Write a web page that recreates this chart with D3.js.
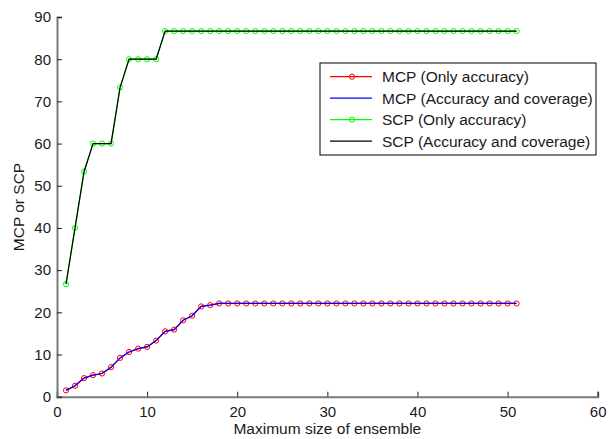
<!DOCTYPE html>
<head>
  <meta charset="utf-8">
  <script src="https://d3js.org/d3.v7.min.js"></script>
  <style>
    body { margin: 0; background: #fff; }
    text { font-family: "Liberation Sans", Arial, sans-serif; fill: #1a1a1a; }
  </style>
</head>
<body>
  <svg width="608" height="439"></svg>
  <script>
    // data
    var ensembleSize = d3.range(1, 52);
    var mcpOnlyAccuracy = [1.5, 2.6, 4.4, 5.1, 5.5, 7.0, 9.2, 10.6, 11.4, 11.8,
      13.3, 15.5, 15.9, 18.1, 19.2, 21.4, 21.7].concat(d3.range(18, 52).map(function () { return 22.1; }));
    var mcpAccCoverage = mcpOnlyAccuracy.slice();
    var scpOnlyAccuracy = [26.67, 40, 53.33, 60, 60, 60, 73.33, 80, 80, 80, 80]
      .concat(d3.range(12, 52).map(function () { return 86.67; }));
    var scpAccCoverage = scpOnlyAccuracy.slice();
    var xTicks = [0, 10, 20, 30, 40, 50, 60];
    var yTicks = [0, 10, 20, 30, 40, 50, 60, 70, 80, 90];

    var series = [
      { name: "MCP (Only accuracy)", values: mcpOnlyAccuracy, color: "#ff0000", marker: true },
      { name: "MCP (Accuracy and coverage)", values: mcpAccCoverage, color: "#0000ff", marker: false },
      { name: "SCP (Only accuracy)", values: scpOnlyAccuracy, color: "#00ff00", marker: true },
      { name: "SCP (Accuracy and coverage)", values: scpAccCoverage, color: "#000000", marker: false }
    ];

    var svg = d3.select("svg");
    var x = d3.scaleLinear().domain([0, 60]).range([57, 597.7]);
    var y = d3.scaleLinear().domain([0, 90]).range([396.7, 17]);

    // axes (MATLAB look: gray spine, inward ticks)
    var xAxis = d3.axisBottom(x).tickValues(xTicks).tickSize(-5).tickPadding(10);
    var yAxis = d3.axisLeft(y).tickValues(yTicks).tickSize(-5).tickPadding(6);

    var gx = svg.append("g").attr("transform", "translate(0," + y(0) + ")").call(xAxis);
    var gy = svg.append("g").attr("transform", "translate(" + x(0) + ",0)").call(yAxis);
    [gx, gy].forEach(function (g) {
      g.select(".domain").attr("stroke", "#7a7a7a").attr("stroke-width", 2);
      g.selectAll(".tick line").attr("stroke", "#222");
      g.selectAll(".tick text").style("font-size", "15px").attr("fill", "#1a1a1a");
    });

    var line = d3.line()
      .x(function (d, i) { return x(ensembleSize[i]); })
      .y(function (d) { return y(d); });

    series.forEach(function (s) {
      svg.append("path")
        .datum(s.values)
        .attr("fill", "none")
        .attr("stroke", s.color)
        .attr("stroke-width", 1.2)
        .attr("d", line);
      if (s.marker) {
        svg.append("g").selectAll("circle")
          .data(s.values)
          .join("circle")
          .attr("cx", function (d, i) { return x(ensembleSize[i]); })
          .attr("cy", function (d) { return y(d); })
          .attr("r", 2.6)
          .attr("fill", "none")
          .attr("stroke", s.color)
          .attr("stroke-width", 1);
      }
    });

    // axis labels
    svg.append("text")
      .attr("x", (x(0) + x(60)) / 2 - 0)
      .attr("y", 434)
      .attr("text-anchor", "middle")
      .style("font-size", "15.5px")
      .text("Maximum size of ensemble");
    svg.append("text")
      .attr("transform", "translate(24," + 207 + ") rotate(-90)")
      .attr("text-anchor", "middle")
      .style("font-size", "15.5px")
      .text("MCP or SCP");

    // legend
    var legend = svg.append("g").attr("transform", "translate(320,63)");
    legend.append("rect")
      .attr("width", 276).attr("height", 92)
      .attr("fill", "#fff").attr("stroke", "#000").attr("stroke-width", 1);
    series.forEach(function (s, i) {
      var row = legend.append("g").attr("transform", "translate(0," + (13.7 + i * 21.5) + ")");
      row.append("line").attr("x1", 10).attr("x2", 52)
        .attr("stroke", s.color).attr("stroke-width", 1.2);
      if (s.marker) {
        row.append("circle").attr("cx", 32).attr("r", 2.6)
          .attr("fill", "none").attr("stroke", s.color);
      }
      row.append("text").attr("x", 62).attr("dy", "0.35em")
        .style("font-size", "15.5px").text(s.name);
    });
  </script>
</body>
